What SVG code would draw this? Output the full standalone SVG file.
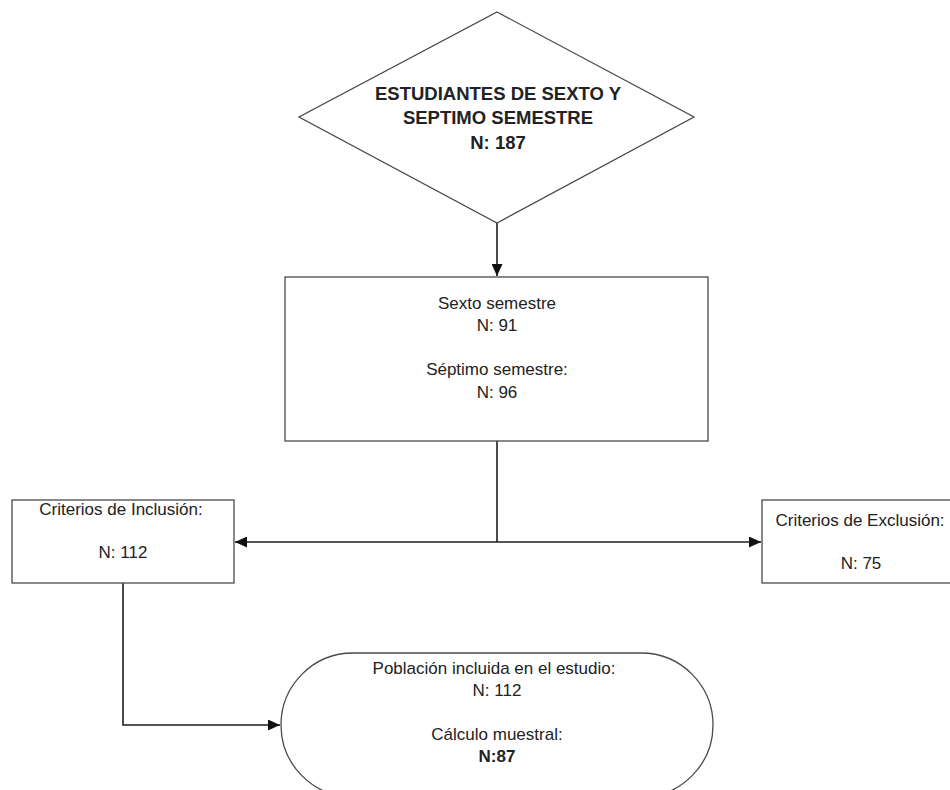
<svg xmlns="http://www.w3.org/2000/svg" width="950" height="790" viewBox="0 0 950 790">
<style>
.shape{fill:#ffffff;stroke:#4a4a4a;stroke-width:1.3}
.conn{fill:none;stroke:#1e1e1e;stroke-width:1.6}
text{font-family:"Liberation Sans",Arial,sans-serif;fill:#222222;text-anchor:middle}
.t{font-size:17px}
.b{font-size:18.5px;font-weight:bold}
.nb{font-size:17px;font-weight:bold}
</style>
<defs>
<marker id="arr" markerUnits="userSpaceOnUse" markerWidth="13" markerHeight="11" refX="12" refY="5.5" orient="auto-start-reverse">
<path d="M0,0 L12,5.5 L0,11 Z" fill="#111111"/>
</marker>
</defs>
<rect width="950" height="790" fill="#ffffff"/>
<g id="connectors">
<line class="conn" x1="497" y1="223" x2="497" y2="276" marker-end="url(#arr)"/>
<line class="conn" x1="497" y1="441" x2="497" y2="542"/>
<line class="conn" x1="235" y1="542" x2="761" y2="542" marker-start="url(#arr)" marker-end="url(#arr)"/>
<polyline class="conn" points="123,583 123,725 280,725" marker-end="url(#arr)"/>
</g>
<g id="node-estudiantes">
<polygon class="shape" points="497,12 694,117 497,223 299,117"/>
<text class="b" x="498" y="100">ESTUDIANTES DE SEXTO Y</text>
<text class="b" x="498" y="124">SEPTIMO SEMESTRE</text>
<text class="b" x="498" y="149">N: 187</text>
</g>
<g id="node-semestres">
<rect class="shape" x="285" y="277" width="423" height="164"/>
<text class="t" x="497" y="309">Sexto semestre</text>
<text class="t" x="497" y="331">N: 91</text>
<text class="t" x="497" y="375">Séptimo semestre:</text>
<text class="t" x="497" y="398">N: 96</text>
</g>
<g id="node-inclusion">
<rect class="shape" x="12" y="500" width="222" height="83"/>
<text class="t" x="121" y="515">Criterios de Inclusión:</text>
<text class="t" x="123" y="558">N: 112</text>
</g>
<g id="node-exclusion">
<rect class="shape" x="762" y="500" width="196" height="83"/>
<text class="t" x="860" y="526">Criterios de Exclusión:</text>
<text class="t" x="861" y="569">N: 75</text>
</g>
<g id="node-poblacion">
<rect class="shape" x="281" y="653" width="432" height="144" rx="72" ry="72"/>
<text class="t" x="494" y="674">Población incluida en el estudio:</text>
<text class="t" x="497" y="696">N: 112</text>
<text class="t" x="497" y="740">Cálculo muestral:</text>
<text class="nb" x="497" y="762">N:87</text>
</g>
</svg>
